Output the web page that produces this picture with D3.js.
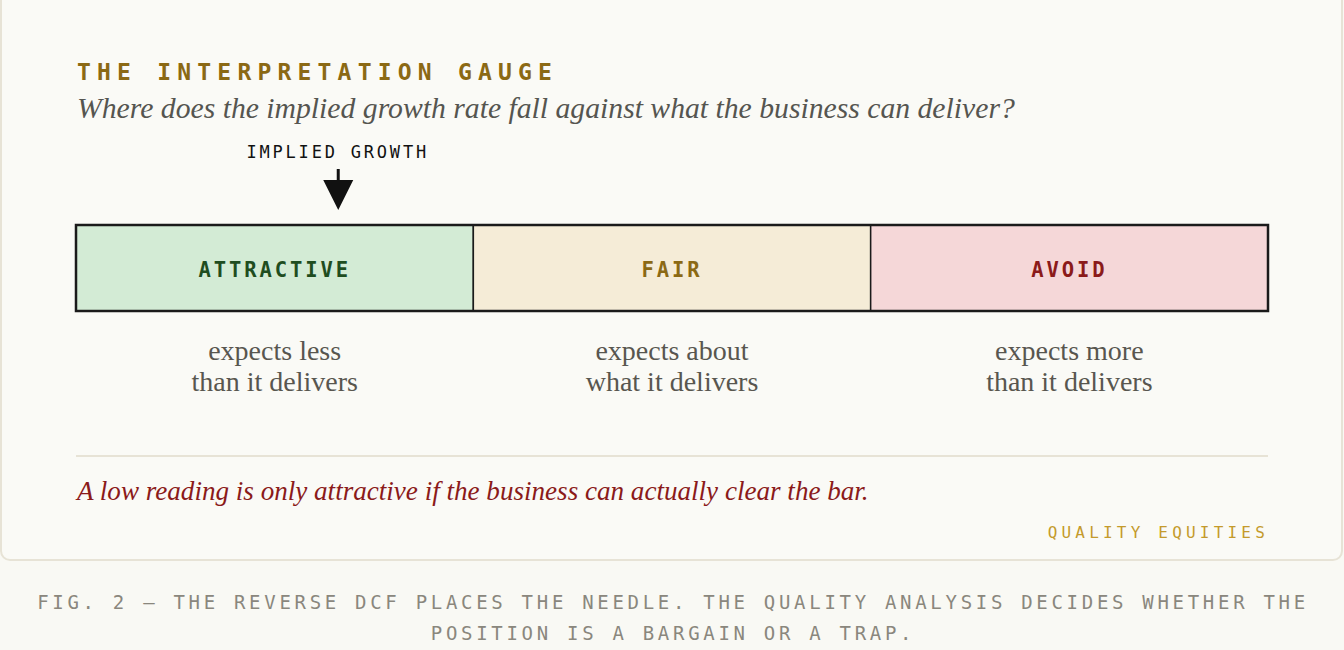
<html><head>
<meta charset="UTF-8">
<title>The Interpretation Gauge</title>
<script src="https://cdn.jsdelivr.net/npm/d3@7"></script>
<style>
  body {
    margin: 0;
    background-color: #f9f9f4;
  }
  .mono { font-family: "DejaVu Sans Mono", "Liberation Mono", monospace; }
  .serif { font-family: "Liberation Serif", "DejaVu Serif", serif; }
</style>
</head>
<body>
<div id="chart"></div>
<script>
  // Gauge data
  const zones = ["ATTRACTIVE", "FAIR", "AVOID"];
  const zoneFills = ["#d3ebd5", "#f5ecd7", "#f5d7d8"];
  const zoneInk = ["#1f4d1f", "#8b6914", "#8b1a1a"];
  const zoneNotes = [
    ["expects less", "than it delivers"],
    ["expects about", "what it delivers"],
    ["expects more", "than it delivers"]
  ];
  // needle position on a 0-100 reading scale
  const gaugeDomain = [0, 100];
  const impliedGrowth = 22;

  const width = 1344;
  const height = 650;

  const svg = d3.select("#chart")
    .append("svg")
    .attr("width", width)
    .attr("height", height);

  // card
  svg.append("rect")
    .attr("x", 1).attr("y", -10)
    .attr("width", 1341).attr("height", 570)
    .attr("rx", 9)
    .attr("fill", "#fafaf6")
    .attr("stroke", "#e7e3d6")
    .attr("stroke-width", 2);

  const left = 76, right = 1268;
  const barTop = 225, barH = 86;

  const x = d3.scaleBand().domain(zones).range([left, right]);
  const g = d3.scaleLinear().domain(gaugeDomain).range([left, right]);

  // title + subtitle
  svg.append("text")
    .attr("class", "mono")
    .attr("x", 77).attr("y", 80)
    .attr("fill", "#8b6914")
    .attr("font-size", 23)
    .attr("font-weight", "bold")
    .attr("letter-spacing", 6.2)
    .text("THE INTERPRETATION GAUGE");

  svg.append("text")
    .attr("class", "serif")
    .attr("x", 77).attr("y", 118)
    .attr("fill", "#555550")
    .attr("font-size", 29.7)
    .attr("font-style", "italic")
    .text("Where does the implied growth rate fall against what the business can deliver?");

  // zones
  const seg = svg.selectAll("g.zone")
    .data(zones)
    .enter()
    .append("g")
    .attr("class", "zone");

  seg.append("rect")
    .attr("x", d => x(d))
    .attr("y", barTop)
    .attr("width", x.bandwidth())
    .attr("height", barH)
    .attr("fill", (d, i) => zoneFills[i])
    .attr("stroke", "#1a1a1a")
    .attr("stroke-width", 1.5);

  seg.append("text")
    .attr("class", "mono")
    .attr("x", d => x(d) + x.bandwidth() / 2)
    .attr("y", barTop + 52)
    .attr("text-anchor", "middle")
    .attr("font-size", 20.5)
    .attr("font-weight", "bold")
    .attr("letter-spacing", 2.9)
    .attr("fill", (d, i) => zoneInk[i])
    .text(d => d);

  seg.each(function(d, i) {
    const t = d3.select(this).append("text")
      .attr("class", "serif")
      .attr("text-anchor", "middle")
      .attr("font-size", 28)
      .attr("fill", "#58564f");
    zoneNotes[i].forEach((line, j) => {
      t.append("tspan")
        .attr("x", x(d) + x.bandwidth() / 2)
        .attr("y", 360 + j * 31)
        .text(line);
    });
  });

  // outer frame
  svg.append("rect")
    .attr("x", left).attr("y", barTop)
    .attr("width", right - left).attr("height", barH)
    .attr("fill", "none")
    .attr("stroke", "#1a1a1a")
    .attr("stroke-width", 2.5);

  // needle
  const nx = g(impliedGrowth);
  svg.append("text")
    .attr("class", "mono")
    .attr("x", nx - 0.5).attr("y", 158)
    .attr("text-anchor", "middle")
    .attr("font-size", 17)
    .attr("letter-spacing", 2.8)
    .attr("fill", "#111")
    .text("IMPLIED GROWTH");

  svg.append("line")
    .attr("x1", nx).attr("x2", nx)
    .attr("y1", 169).attr("y2", 182)
    .attr("stroke", "#111")
    .attr("stroke-width", 3);

  svg.append("path")
    .attr("d", d3.line()([[nx - 15, 180], [nx + 15, 180], [nx, 210]]) + "Z")
    .attr("fill", "#111");

  // divider
  svg.append("line")
    .attr("x1", left).attr("x2", right)
    .attr("y1", 456).attr("y2", 456)
    .attr("stroke", "#e7e3d6")
    .attr("stroke-width", 2);

  svg.append("text")
    .attr("class", "serif")
    .attr("x", 77).attr("y", 500)
    .attr("fill", "#8b1a1a")
    .attr("font-size", 27.1)
    .attr("font-style", "italic")
    .text("A low reading is only attractive if the business can actually clear the bar.");

  svg.append("text")
    .attr("class", "mono")
    .attr("x", 1269).attr("y", 538)
    .attr("text-anchor", "end")
    .attr("font-size", 16)
    .attr("letter-spacing", 4.2)
    .attr("fill", "#c49a2c")
    .text("QUALITY EQUITIES");

  // caption
  const caption = [
    "FIG. 2 \u2014 THE REVERSE DCF PLACES THE NEEDLE. THE QUALITY ANALYSIS DECIDES WHETHER THE",
    "POSITION IS A BARGAIN OR A TRAP."
  ];
  svg.selectAll("text.caption")
    .data(caption)
    .enter()
    .append("text")
    .attr("class", "mono caption")
    .attr("x", 673)
    .attr("y", (d, i) => 609 + i * 31)
    .attr("text-anchor", "middle")
    .attr("font-size", 19)
    .attr("letter-spacing", 3.7)
    .attr("fill", "#8a877d")
    .text(d => d);
</script>
</body>
</html>
